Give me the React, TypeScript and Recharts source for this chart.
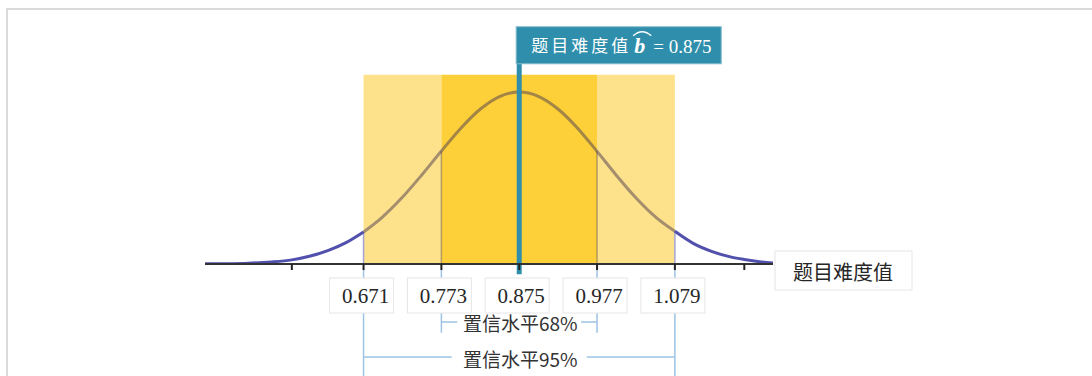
import React from 'react';
import { LineChart, Line, XAxis, YAxis, ReferenceArea, ReferenceLine, ReferenceDot } from 'recharts';

// Difficulty-value axis positions and the normal curve heights
const xValues = [0.4632, 0.49, 0.52, 0.55, 0.577, 0.6, 0.625, 0.648, 0.671, 0.695, 0.72, 0.747, 0.773, 0.8, 0.825, 0.85, 0.875, 0.9, 0.925, 0.95, 0.977, 1.003, 1.03, 1.055, 1.079, 1.103, 1.128, 1.153, 1.17, 1.19, 1.2076];
const density = [0.001, 0.002, 0.005, 0.012, 0.024, 0.045, 0.079, 0.124, 0.186, 0.27, 0.379, 0.516, 0.657, 0.797, 0.904, 0.975, 1.0, 0.975, 0.904, 0.797, 0.655, 0.512, 0.375, 0.268, 0.19, 0.12, 0.072, 0.04, 0.026, 0.013, 0.006];

const estimate = 0.875;
const ci68 = [0.773, 0.977];
const ci95 = [0.671, 1.079];
const axisTicks = [0.577, 0.671, 0.773, 0.875, 0.977, 1.079, 1.17];
const tickLabels: Record<string, string> = { '0.671': '0.671', '0.773': '0.773', '0.875': '0.875', '0.977': '0.977', '1.079': '1.079' };
const axisTitle = '题目难度值';
const calloutTitle = '题目难度值';
const calloutValue = '= 0.875';
const label68 = '置信水平68%';
const label95 = '置信水平95%';

const BAND_TOP = 1.1;
const BRACKET68_Y = -0.337;
const BRACKET95_Y = -0.541;
const BLUE = '#9DC3E6';

const data = xValues.map((x, i) => ({
  x,
  tailL: x <= ci95[0] ? density[i] : null,
  mid: x >= ci95[0] && x <= ci95[1] ? density[i] : null,
  tailR: x >= ci95[1] ? density[i] : null,
}));

const densityAt = (v: number) => density[xValues.indexOf(v)];

const SERIF = '"Liberation Serif", "Times New Roman", serif';
const SANS = '"Noto Sans CJK SC", "Noto Sans", sans-serif';

const Tick = (props: any) => {
  const { x, y, payload } = props;
  const lbl = tickLabels[String(payload.value)];
  if (!lbl) return null;
  return (
    <g>
      <rect x={x - 34} y={y + 6} width={64} height={35} fill="#fff" stroke="#e6e6e6" strokeWidth={1} />
      <text x={x + 2} y={y + 31} textAnchor="middle" fontFamily={SERIF} fontSize={21} fill="#262626">{lbl}</text>
    </g>
  );
};

const BracketLabel = (text: string, gap: number) => (props: any) => {
  const { cx, cy } = props;
  return (
    <g>
      <rect x={cx - gap / 2} y={cy - 12} width={gap} height={24} fill="#fff" />
      <text x={cx + 1} y={cy + 1} textAnchor="middle" dominantBaseline="central" fontFamily={SANS} fontSize={19} fill="#333">{text}</text>
    </g>
  );
};

const Callout = (props: any) => {
  const { cx, cy } = props;
  const left = cx - 3;
  return (
    <g>
      <rect x={left} y={cy - 36} width={205} height={37} fill="#2E8EAB" stroke="#7fb9cc" strokeWidth={1} />
      <text x={left + 15} y={cy - 11} fontFamily={SANS} fontSize={17} letterSpacing={3} fill="#fff">{calloutTitle}</text>
      <text x={left + 118} y={cy - 10} fontFamily={SERIF} fontSize={22} fontStyle="italic" fontWeight="bold" fill="#fff">b</text>
      <path d={`M ${left + 117} ${cy - 27} Q ${left + 126} ${cy - 35} ${left + 135} ${cy - 27}`} stroke="#fff" strokeWidth={1.6} fill="none" />
      <text x={left + 137} y={cy - 10} fontFamily={SERIF} fontSize={19} fill="#fff">{calloutValue}</text>
    </g>
  );
};

const AxisTitle = (props: any) => {
  const vb = props.viewBox || {};
  const left = vb.x + vb.width + 2;
  return (
    <g>
      <rect x={left} y={vb.y - 13} width={137} height={39} fill="#fff" stroke="#e6e6e6" strokeWidth={1} />
      <text x={left + 68} y={vb.y + 7} textAnchor="middle" dominantBaseline="central" fontFamily={SANS} fontSize={20} fill="#262626">{axisTitle}</text>
    </g>
  );
};

export default function App() {
  return (
    <div style={{ position: 'absolute', left: 0, top: 0, width: 1092, height: 376, background: '#fff' }}>
      <div style={{ position: 'absolute', left: 6, top: 8, width: 1090, height: 370, borderTop: '2px solid #dadada', borderLeft: '2px solid #dadada' }} />
      <div style={{ position: 'absolute', left: 0, top: 0 }}>
        <LineChart width={1092} height={376} data={data} margin={{ top: 57.6, right: 319, bottom: 82, left: 205 }}>
          <XAxis
            type="number"
            dataKey="x"
            domain={[0.4632, 1.2076]}
            allowDataOverflow
            ticks={axisTicks}
            interval={0}
            height={30}
            tickSize={6}
            tickLine={{ stroke: '#222', strokeWidth: 2 }}
            axisLine={{ stroke: '#333', strokeWidth: 2 }}
            tick={<Tick />}
            label={{ content: <AxisTitle /> } as any}
          />
          <YAxis hide domain={[0, 1.2]} allowDataOverflow />
          <ReferenceArea x1={ci95[0]} x2={ci68[0]} y1={0} y2={BAND_TOP} fill="#FEE28B" fillOpacity={1} strokeWidth={0} ifOverflow="visible" />
          <ReferenceArea x1={ci68[1]} x2={ci95[1]} y1={0} y2={BAND_TOP} fill="#FEE28B" fillOpacity={1} strokeWidth={0} ifOverflow="visible" />
          <ReferenceArea x1={ci68[0]} x2={ci68[1]} y1={0} y2={BAND_TOP} fill="#FDD03A" fillOpacity={1} strokeWidth={0} ifOverflow="visible" />

          <ReferenceLine segment={[{ x: ci95[0], y: 0 }, { x: ci95[0], y: densityAt(ci95[0]) }]} stroke="#a3a3d6" strokeWidth={1.5} ifOverflow="visible" />
          <ReferenceLine segment={[{ x: ci95[1], y: 0 }, { x: ci95[1], y: densityAt(ci95[1]) }]} stroke="#a3a3d6" strokeWidth={1.5} ifOverflow="visible" />
          <ReferenceLine segment={[{ x: ci68[0], y: 0 }, { x: ci68[0], y: densityAt(ci68[0]) }]} stroke="#5a4a4a" strokeOpacity={0.45} strokeWidth={1.5} ifOverflow="visible" />
          <ReferenceLine segment={[{ x: ci68[1], y: 0 }, { x: ci68[1], y: densityAt(ci68[1]) }]} stroke="#5a4a4a" strokeOpacity={0.45} strokeWidth={1.5} ifOverflow="visible" />

          <Line dataKey="tailL" type="monotone" stroke="#5151ad" strokeWidth={3} dot={false} isAnimationActive={false} connectNulls={false} />
          <Line dataKey="tailR" type="monotone" stroke="#5151ad" strokeWidth={3} dot={false} isAnimationActive={false} connectNulls={false} />
          <Line dataKey="mid" type="monotone" stroke="#4a3a50" strokeOpacity={0.5} strokeWidth={3} dot={false} isAnimationActive={false} connectNulls={false} />

          {/* confidence brackets */}
          <ReferenceLine segment={[{ x: ci95[0], y: -0.02 }, { x: ci95[0], y: -0.66 }]} stroke={BLUE} strokeWidth={1.5} ifOverflow="visible" />
          <ReferenceLine segment={[{ x: ci95[1], y: -0.02 }, { x: ci95[1], y: -0.66 }]} stroke={BLUE} strokeWidth={1.5} ifOverflow="visible" />
          <ReferenceLine segment={[{ x: ci68[0], y: -0.03 }, { x: ci68[0], y: -0.4 }]} stroke={BLUE} strokeWidth={1.5} ifOverflow="visible" />
          <ReferenceLine segment={[{ x: ci68[1], y: -0.03 }, { x: ci68[1], y: -0.4 }]} stroke={BLUE} strokeWidth={1.5} ifOverflow="visible" />
          <ReferenceLine segment={[{ x: ci68[0], y: BRACKET68_Y }, { x: ci68[1], y: BRACKET68_Y }]} stroke={BLUE} strokeWidth={1.5} ifOverflow="visible" />
          <ReferenceLine segment={[{ x: ci95[0], y: BRACKET95_Y }, { x: ci95[1], y: BRACKET95_Y }]} stroke={BLUE} strokeWidth={1.5} ifOverflow="visible" />
          <ReferenceDot x={estimate} y={BRACKET68_Y} ifOverflow="visible" shape={BracketLabel(label68, 124)} />
          <ReferenceDot x={estimate} y={BRACKET95_Y} ifOverflow="visible" shape={BracketLabel(label95, 135)} />

          {/* estimate marker */}
          <ReferenceLine segment={[{ x: estimate, y: -0.06 }, { x: estimate, y: 1.17 }]} stroke="#2E8EAB" strokeWidth={5} ifOverflow="visible" />
          <ReferenceDot x={estimate} y={1.17} ifOverflow="visible" shape={Callout} />
        </LineChart>
      </div>
    </div>
  );
}
